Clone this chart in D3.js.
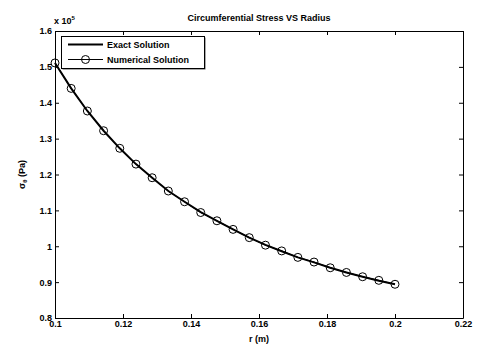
<!DOCTYPE html>
<html>
<head>
<meta charset="utf-8">
<script src="https://cdn.jsdelivr.net/npm/d3@7"></script>
<style>
  body { margin: 0; background: #fff; }
  text { font-family: "Liberation Sans", Arial, sans-serif; fill: #000; }
</style>
</head>
<body>
<div id="chart"></div>
<script>
var radius = [0.1, 0.10476, 0.10952, 0.11429, 0.11905, 0.12381, 0.12857, 0.13333, 0.1381, 0.14286, 0.14762,
              0.15238, 0.15714, 0.1619, 0.16667, 0.17143, 0.17619, 0.18095, 0.18571, 0.19048, 0.19524, 0.2];
var exactStress = [1.511, 1.440, 1.377, 1.322, 1.273, 1.229, 1.191, 1.154, 1.124, 1.095, 1.071,
                   1.047, 1.024, 1.004, 0.986, 0.969, 0.955, 0.940, 0.927, 0.915, 0.904, 0.894];
var numStress = [1.511, 1.440, 1.377, 1.322, 1.273, 1.229, 1.191, 1.154, 1.124, 1.094, 1.071,
                 1.047, 1.024, 1.003, 0.987, 0.969, 0.956, 0.940, 0.927, 0.915, 0.905, 0.894];
var xTicks = [0.1, 0.12, 0.14, 0.16, 0.18, 0.2, 0.22];
var yTicks = [0.8, 0.9, 1, 1.1, 1.2, 1.3, 1.4, 1.5, 1.6];
var seriesNames = ["Exact Solution", "Numerical Solution"];

var W = 477, H = 346;
var m = { left: 55, right: 14, top: 31, bottom: 28 };

var svg = d3.select("#chart").append("svg").attr("width", W).attr("height", H);

var x = d3.scaleLinear().domain([0.1, 0.22]).range([m.left, W - m.right]);
var y = d3.scaleLinear().domain([0.8, 1.6]).range([H - m.bottom, m.top]);

// axes, ticks pointing inward on all four sides
var fmt = function(d) { return d3.format("")(+d.toFixed(2)); };
var ax = function(g) {
   g.selectAll("path").attr("stroke", "#000").attr("stroke-width", 1);
   g.selectAll("line").attr("stroke", "#000");
   g.selectAll("text").style("font-size", "9px").style("font-weight", "bold");
};
svg.append("g").attr("transform", "translate(0," + (H - m.bottom) + ")")
   .call(d3.axisBottom(x).tickValues(xTicks).tickFormat(fmt).tickSizeInner(-4).tickSizeOuter(0).tickPadding(3))
   .call(ax);
svg.append("g").attr("transform", "translate(0," + m.top + ")")
   .call(d3.axisTop(x).tickValues(xTicks).tickFormat("").tickSizeInner(-4).tickSizeOuter(0))
   .call(ax);
svg.append("g").attr("transform", "translate(" + m.left + ",0)")
   .call(d3.axisLeft(y).tickValues(yTicks).tickFormat(fmt).tickSizeInner(-4).tickSizeOuter(0).tickPadding(3))
   .call(ax);
svg.append("g").attr("transform", "translate(" + (W - m.right) + ",0)")
   .call(d3.axisRight(y).tickValues(yTicks).tickFormat("").tickSizeInner(-4).tickSizeOuter(0))
   .call(ax);

// exponent label
var ex = svg.append("text").attr("x", m.left - 1).attr("y", m.top - 7)
   .style("font-size", "9px").style("font-weight", "bold").text("x 10");
ex.append("tspan").attr("dy", -4).style("font-size", "6px").text("5");

// titles
svg.append("text").attr("x", (m.left + W - m.right) / 2).attr("y", 21)
   .attr("text-anchor", "middle").style("font-size", "9px").style("font-weight", "bold")
   .text("Circumferential Stress VS Radius");
svg.append("text").attr("x", (m.left + W - m.right) / 2).attr("y", 342)
   .attr("text-anchor", "middle").style("font-size", "9px").style("font-weight", "bold")
   .text("r (m)");
var yl = svg.append("text").attr("transform", "translate(25," + ((m.top + H - m.bottom) / 2) + ") rotate(-90)")
   .attr("text-anchor", "middle").style("font-size", "9px").style("font-weight", "bold");
yl.append("tspan").text("σ");
yl.append("tspan").attr("dy", 2).style("font-size", "6px").text("θ");
yl.append("tspan").attr("dy", -2).text(" (Pa)");

// lines
var line = d3.line().x(function(d) { return x(d[0]); }).y(function(d) { return y(d[1]); });
svg.append("path").datum(d3.zip(radius, exactStress)).attr("d", line)
   .attr("fill", "none").attr("stroke", "#000").attr("stroke-width", 2);
svg.append("path").datum(d3.zip(radius, numStress)).attr("d", line)
   .attr("fill", "none").attr("stroke", "#000").attr("stroke-width", 1);
svg.selectAll(".pt").data(d3.zip(radius, numStress)).enter().append("circle")
   .attr("class", "pt")
   .attr("cx", function(d) { return x(d[0]); })
   .attr("cy", function(d) { return y(d[1]); })
   .attr("r", 4).attr("fill", "none").attr("stroke", "#000").attr("stroke-width", 1);

// legend
var lg = svg.append("g").attr("transform", "translate(61,36)");
lg.append("rect").attr("x", 1.5).attr("y", 1.5).attr("width", 143).attr("height", 32).attr("fill", "#555");
lg.append("rect").attr("x", 0.5).attr("y", 0.5).attr("width", 143).attr("height", 32)
   .attr("fill", "#fff").attr("stroke", "#000");
seriesNames.forEach(function(name, i) {
   var yy = 8.5 + i * 15;
   lg.append("line").attr("x1", 7).attr("x2", 42).attr("y1", yy).attr("y2", yy)
      .attr("stroke", "#000").attr("stroke-width", i == 0 ? 2 : 1);
   if (i == 1) lg.append("circle").attr("cx", 24.5).attr("cy", yy).attr("r", 4)
      .attr("fill", "none").attr("stroke", "#000");
   lg.append("text").attr("x", 46).attr("y", yy + 3.5)
      .style("font-size", "9px").style("font-weight", "bold").text(name);
});
</script>
</body>
</html>
